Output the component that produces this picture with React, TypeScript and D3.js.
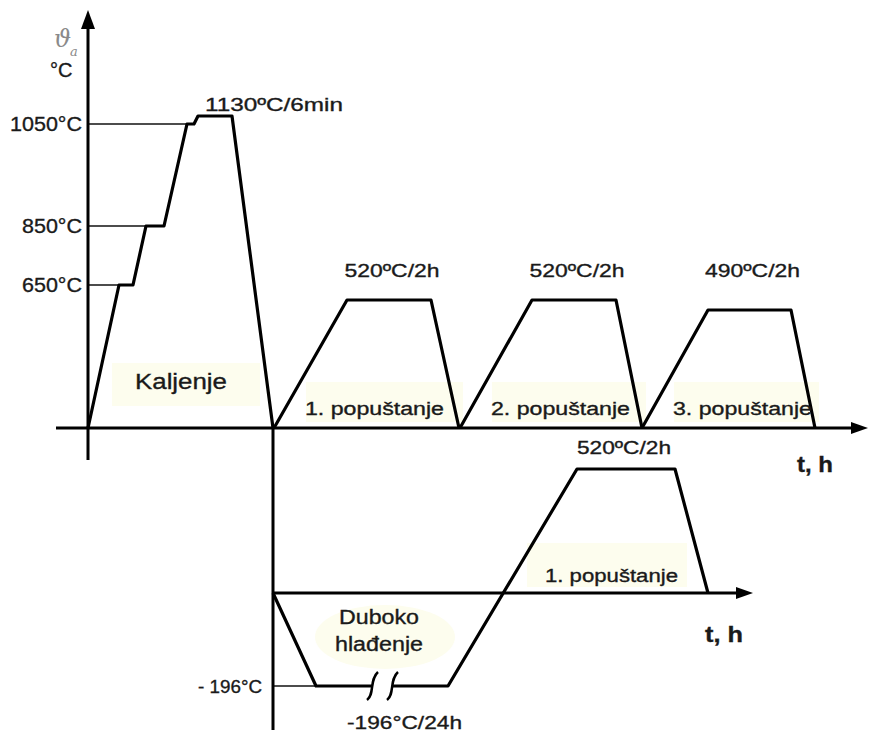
import React from 'react';
import * as d3 from 'd3';

// schematic time units (upper and lower diagrams), temperatures in °C
const quenchTime = [0, 3.1, 4.5, 5.8, 7.6, 9.9, 10.6, 11.0, 14.4, 18.5];
const quenchTemp = [0, 650, 650, 850, 850, 1050, 1050, 1130, 1130, 0];

const temperTimes = [
  [18.6, 25.9, 34.3, 37.1],
  [37.2, 44.4, 52.8, 55.4],
  [55.4, 62.0, 70.3, 72.7],
];
const temperTemps = [
  [0, 520, 520, 0],
  [0, 520, 520, 0],
  [0, 490, 490, 0],
];
const temperLabels = ['520ºC/2h', '520ºC/2h', '490ºC/2h'];
const temperNames = ['1. popuštanje', '2. popuštanje', '3. popuštanje'];

const levelTicks = [650, 850, 1050];
const levelLabels = ['650°C', '850°C', '1050°C'];

const deepTime = [0, 4.3, 10.0, 12.0, 17.5, 30.4, 40.2, 43.5];
const deepTemp = [0, -196, -196, -196, -196, 520, 520, 0];
const breakTimes = [10.0, 12.0];

const W = 870;
const H = 734;

const FONT = '"Liberation Sans", Arial, sans-serif';
const BG = '#fdfdee';

const App = () => {
  const x = d3.scaleLinear().domain([0, 78]).range([88, 868]);
  const y = d3.scaleLinear()
    .domain([0, 490, 520, 650, 850, 1050, 1130])
    .range([428, 310, 300, 285, 226, 124, 116]);

  const xl = d3.scaleLinear().domain([0, 48]).range([273, 753]);
  const yl = d3.scaleLinear().domain([-196, 0, 520]).range([686, 593, 469]);

  const line = d3.line<[number, number]>();

  const quenchPts: [number, number][] = quenchTime.map((t, i) => [x(t), y(quenchTemp[i])]);
  const temperPts = temperTimes.map((ts, j) =>
    ts.map((t, i) => [x(t), y(temperTemps[j][i])] as [number, number]));

  const b0 = deepTime.indexOf(breakTimes[0]);
  const b1 = deepTime.indexOf(breakTimes[1]);
  const deepA: [number, number][] = deepTime.slice(0, b0 + 1).map((t, i) => [xl(t), yl(deepTemp[i])]);
  const deepB: [number, number][] = deepTime.slice(b1).map((t, i) => [xl(t), yl(deepTemp[b1 + i])]);

  const y0 = y(0);
  const ly0 = yl(0);
  const ax = x(0);

  const breakMark = (t: number) => {
    const bx = xl(t);
    const by = yl(-196);
    return `M${bx - 6},${by + 14} C${bx + 2},${by + 8} ${bx - 4},${by - 6} ${bx + 5},${by - 14}`;
  };

  const txt = { fontFamily: FONT, fill: '#1a1a1a', stroke: '#1a1a1a', strokeWidth: 0.35 } as const;

  return (
    <svg width={W} height={H} style={{ position: 'absolute', left: 0, top: 0, background: '#fff' }}>
      {/* label backgrounds */}
      <rect x={112} y={363} width={148} height={43} fill={BG} />
      {temperTimes.map((ts, j) => (
        <rect key={j} x={x(ts[0]) + 32} y={382} width={x(ts[3]) - x(ts[0]) - 28} height={40} fill={BG} />
      ))}
      <rect x={527} y={543} width={160} height={44} fill={BG} />
      <ellipse cx={385} cy={637} rx={70} ry={32} fill={BG} />

      {/* reference levels */}
      {levelTicks.map((lv, i) => {
        const k = quenchTemp.indexOf(lv);
        return (
          <g key={lv}>
            <line x1={ax} x2={x(quenchTime[k])} y1={y(lv)} y2={y(lv)} stroke="#111" strokeWidth={1.5} />
            <text x={82} y={y(lv) + 7} textAnchor="end" fontSize={20} {...txt}
              textLength={i === 2 ? 72 : 60} lengthAdjust="spacingAndGlyphs">{levelLabels[i]}</text>
          </g>
        );
      })}
      <line x1={xl(0)} x2={xl(deepTime[1])} y1={yl(-196)} y2={yl(-196)} stroke="#111" strokeWidth={1.5} />

      {/* upper axes */}
      <line x1={56} x2={858} y1={y0} y2={y0} stroke="#000" strokeWidth={3} />
      <polygon points={`868,${y0} 851,${y0 - 6} 851,${y0 + 6}`} fill="#000" />
      <line x1={ax} x2={ax} y1={460} y2={22} stroke="#000" strokeWidth={3} />
      <polygon points={`${ax},10 ${ax - 7},29 ${ax + 7},29`} fill="#000" />

      {/* lower axes */}
      <line x1={xl(0)} x2={xl(0)} y1={y0} y2={730} stroke="#000" strokeWidth={3} />
      <line x1={xl(0)} x2={744} y1={ly0} y2={ly0} stroke="#000" strokeWidth={3} />
      <polygon points={`${xl(48)},${ly0} 736,${ly0 - 6} 736,${ly0 + 6}`} fill="#000" />

      {/* process curves */}
      <path d={line(quenchPts) ?? ''} fill="none" stroke="#000" strokeWidth={3.2} strokeLinejoin="round" />
      {temperPts.map((p, j) => (
        <path key={j} d={line(p) ?? ''} fill="none" stroke="#000" strokeWidth={3.2} strokeLinejoin="round" />
      ))}
      <path d={line(deepA) ?? ''} fill="none" stroke="#000" strokeWidth={3.2} strokeLinejoin="round" />
      <path d={line(deepB) ?? ''} fill="none" stroke="#000" strokeWidth={3.2} strokeLinejoin="round" />
      {breakTimes.map((t) => (
        <path key={t} d={breakMark(t)} fill="none" stroke="#000" strokeWidth={2.5} />
      ))}

      {/* axis titles */}
      <text x={54} y={47} fontSize={24} fontStyle="italic" fontFamily='"DejaVu Serif", serif' fill="#8a8a8a">ϑ</text>
      <text x={70} y={56} fontSize={13} fontStyle="italic" fontFamily='"DejaVu Serif", serif' fill="#8a8a8a">a</text>
      <text x={50} y={77} fontSize={20} {...txt}>°C</text>
      <text x={797} y={472} fontSize={22} fontWeight="bold" {...txt} textLength={36} lengthAdjust="spacingAndGlyphs">t, h</text>
      <text x={705} y={642} fontSize={22} fontWeight="bold" {...txt} textLength={38} lengthAdjust="spacingAndGlyphs">t, h</text>

      {/* process labels */}
      <text x={205} y={111} fontSize={19} {...txt} textLength={138} lengthAdjust="spacingAndGlyphs">1130ºC/6min</text>
      {temperTimes.map((ts, j) => (
        <text key={j} x={(x(ts[1]) + x(ts[2])) / 2 + 3} y={277} textAnchor="middle" fontSize={19} {...txt}
          textLength={95} lengthAdjust="spacingAndGlyphs">{temperLabels[j]}</text>
      ))}
      {temperTimes.map((ts, j) => (
        <text key={j} x={x(ts[0]) + 31} y={415} fontSize={18} {...txt}
          textLength={139} lengthAdjust="spacingAndGlyphs">{temperNames[j]}</text>
      ))}
      <text x={135} y={389} fontSize={22} {...txt} textLength={92} lengthAdjust="spacingAndGlyphs">Kaljenje</text>
      <text x={624} y={454} textAnchor="middle" fontSize={19} {...txt}
        textLength={94} lengthAdjust="spacingAndGlyphs">520ºC/2h</text>
      <text x={545} y={582} fontSize={18} {...txt} textLength={133} lengthAdjust="spacingAndGlyphs">1. popuštanje</text>
      <text x={379} y={624} textAnchor="middle" fontSize={20} {...txt}
        textLength={80} lengthAdjust="spacingAndGlyphs">Duboko</text>
      <text x={379} y={651} textAnchor="middle" fontSize={20} {...txt}
        textLength={88} lengthAdjust="spacingAndGlyphs">hlađenje</text>
      <text x={262} y={693} textAnchor="end" fontSize={19} {...txt}
        textLength={64} lengthAdjust="spacingAndGlyphs">- 196°C</text>
      <text x={347} y={729} fontSize={19} {...txt} textLength={115} lengthAdjust="spacingAndGlyphs">-196°C/24h</text>
    </svg>
  );
};

export default App;
